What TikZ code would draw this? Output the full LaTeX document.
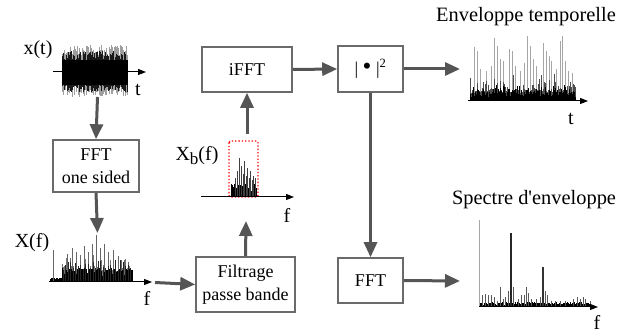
\documentclass[tikz,border=0pt]{standalone}
\usepackage{fontspec}
\setmainfont{Liberation Serif}
\usetikzlibrary{arrows.meta}
\definecolor{boxgray}{HTML}{6A6A6A}
\definecolor{flowgray}{HTML}{555555}
\begin{document}
\begin{tikzpicture}[x=1pt,y=-1pt,
  blk/.style={draw=boxgray, line width=1.6pt, fill=white, align=center,
    inner sep=0pt, font=\fontsize{18}{22.5}\selectfont},
  flow/.style={draw=flowgray, line width=3pt, -{Triangle[length=15pt,width=13pt]}},
  axisline/.style={draw=black, line width=1pt, -{Triangle[length=8pt,width=6pt]}},
  lbl/.style={inner sep=0pt, font=\fontsize{20}{24}\selectfont},
  ttl/.style={inner sep=0pt, font=\fontsize{20.4}{24}\selectfont},
  spike/.style={line width=0.6pt}]
\useasboundingbox (0,0) rectangle (634,336);
\pgfmathsetseed{4242}

% ---------- processing blocks ----------
\node[blk, minimum width=86pt, minimum height=52pt] (fftone) at (96,166) {FFT\\one sided};
\node[blk, minimum width=99pt, minimum height=55pt] (filt) at (245.5,284.5) {Filtrage\\passe bande};
\node[blk, minimum width=90pt, minimum height=45pt] (ifft) at (247,69.5) {iFFT};
\node[blk, minimum width=65pt, minimum height=46pt] (modsq) at (370.5,69)
  {\textbar\ \scalebox{1.4}{\textbullet}\ \textbar\raisebox{1pt}{\textsuperscript{2}}};
\node[blk, minimum width=65pt, minimum height=45pt] (fftenv) at (370.5,280.5) {FFT};

% ---------- labels ----------
\node[lbl] (lxt) at (38,50) {x(t)};
\node[lbl] (lt1) at (138,90) {t};
\node[lbl] (lxf) at (32,243) {X(f)};
\node[lbl] (lf1) at (147,298) {f};
\node[lbl] (lxb) at (197,156) {X\raisebox{-4pt}{\fontsize{17}{17}\selectfont b}(f)};
\node[lbl] (lf2) at (287,215) {f};
\node[ttl] (ltitle1) at (526,17) {Enveloppe temporelle};
\node[lbl] (lt2) at (571,119) {t};
\node[ttl] (ltitle2) at (534,200) {Spectre d\textquotesingle enveloppe};
\node[lbl] (lf3) at (597,322) {f};

% ---------- x(t): broadband time signal ----------
\foreach \x in {62,62.7,...,127.6}{
  \pgfmathsetmacro\up{14+13*rnd}
  \pgfmathsetmacro\dn{14+11*rnd}
  \draw[gray!75, spike] ({\x},{72-\up}) -- ({\x},{72+\dn});
}
\foreach \x in {62,62.6,...,127.8}{
  \pgfmathsetmacro\up{9+12*rnd}
  \pgfmathsetmacro\dn{9+11*rnd}
  \draw[black!90, spike] ({\x},{72-\up}) -- ({\x},{72+\dn});
}
\fill[black] (62,60) rectangle (128,85);
\draw[axisline] (53,72) -- (146,72);

% ---------- X(f): one-sided spectrum ----------
\foreach \x in {50,50.5,...,61.5}{
  \pgfmathsetmacro\h{1.5+3*rnd}
  \draw[black, spike] ({\x},282) -- ({\x},{282-\h});
}
\foreach \x in {62,63.3,...,131}{
  \pgfmathsetmacro\h{10+20*rnd*rnd}
  \draw[black!55, spike] ({\x},282) -- ({\x},{282-\h});
}
\foreach \x/\h in {53/32,67/28,70/24,72/34,76/30,80/27,84/36,88/30,92/38,96/47,
                   100/34,104/38,108/30,113/32,118/26,121/22,124/22,128/20}{
  \draw[black!60, line width=0.8pt] ({\x},282) -- ({\x},{282-\h});
}
\foreach \x in {62,62.4,...,132}{
  \pgfmathsetmacro\h{5+9*rnd}
  \draw[black, spike] ({\x},282) -- ({\x},{282-\h});
}
\foreach \x in {63,65.5,...,131}{
  \pgfmathsetmacro\h{12+10*rnd}
  \draw[black!85, spike] ({\x},282) -- ({\x},{282-\h});
}
\draw[axisline] (49,282) -- (152,282);

% ---------- Xb(f): band-pass filtered spectrum ----------
\foreach \x in {231,231.4,...,256}{
  \pgfmathsetmacro\h{3+10*rnd}
  \draw[black, spike] ({\x},196) -- ({\x},{196-\h});
}
\foreach \x/\h in {235/18,237/25,239/38,241/30,243/22,244/35,246/20,247/28,249/18,250/25,252/16,253/20,255/18}{
  \draw[black!75, spike] ({\x},196) -- ({\x},{196-\h});
}
\draw[red, dotted, line width=1.3pt, rounded corners=1.5pt] (229,141) rectangle (258,197);
\draw[axisline] (201,197) -- (294,197);

% ---------- envelope in time ----------
\foreach \x/\h in {474/54,477/50,480/32,486/30,491/35,494/63,497/55,500/42,503/40,
                   509/52,512/50,515/35,520/30,524/38,527/65,530/55,533/42,536/35,
                   543/58,546/50,549/45,551/40,556/32,560/60,562/65,565/40,568/30,572/28}{
  \draw[gray!70, line width=0.8pt] ({\x},101) -- ({\x},{101-\h});
}
\foreach \x in {470,471,...,575}{
  \pgfmathsetmacro\h{8+22*rnd*rnd}
  \draw[black!70, spike] ({\x},101) -- ({\x},{101-\h});
}
\foreach \x in {470,470.4,...,575}{
  \pgfmathsetmacro\h{4+13*rnd*rnd}
  \draw[black, spike] ({\x},101) -- ({\x},{101-\h});
}
\draw[axisline] (468,101) -- (588,101);

% ---------- envelope spectrum ----------
\foreach \x in {480,480.5,...,590}{
  \pgfmathsetmacro\h{1+4*rnd}
  \draw[black, spike] ({\x},307) -- ({\x},{307-\h});
}
\foreach \x/\h in {482/12,485/13,488/12,491/12,494/10,497/6,500/20,503/8,505/10,508/16,
                   510/25,513/20,518/8,521/12,524/12,526/20,528/14,531/8,536/8,540/10,
                   545/16,547/12,551/6,555/6,560/6,565/6,573/8,577/10,580/8,583/10,585/8,590/6}{
  \draw[black!65, line width=0.9pt] ({\x},307) -- ({\x},{307-\h});
}
\draw[gray!70, line width=1.1pt] (479.5,307) -- (479.5,220);
\draw[black!85, line width=1.1pt] (511,307) -- (511,233);
\draw[black!80, line width=1.1pt] (543,307) -- (543,267);
\draw[axisline] (479,307) -- (598,307);

% ---------- signal flow ----------
\coordinate (sxt) at (97.5,97);
\coordinate (sxf) at (97.5,233);
\coordinate (sxfo) at (155,282.5);
\coordinate (sxbin) at (246,221);
\coordinate (sxbout) at (247,134);
\coordinate (senv) at (460,69);
\coordinate (sspec) at (460,281);

\draw[flow] (sxt) -- (fftone.north);
\draw[flow] (fftone.south) -- (sxf);
\draw[flow] (sxfo) -- (filt.west);
\draw[flow] (filt.north) -- (sxbin);
\draw[flow] (sxbout) -- (ifft.south);
\draw[flow] (ifft.east) -- (modsq.west);
\draw[flow] (modsq.east) -- (senv);
\draw[flow] (modsq.south) -- (fftenv.north);
\draw[flow] (fftenv.east) -- (sspec);
\end{tikzpicture}
\end{document}
